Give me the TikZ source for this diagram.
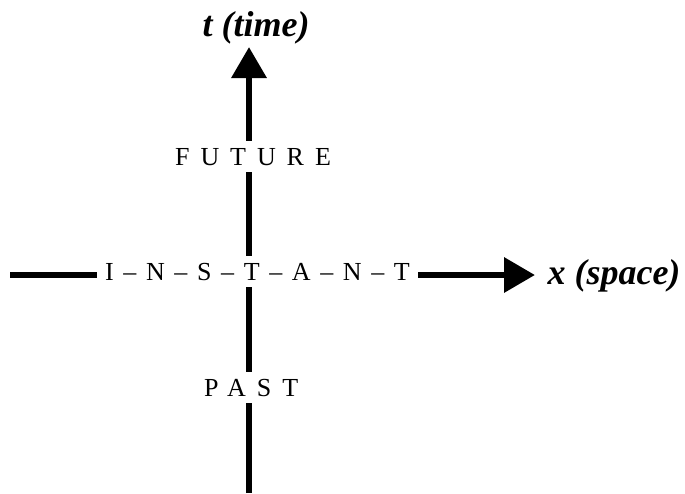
\documentclass[tikz,border=0pt]{standalone}
\usepackage{fontspec}
\setmainfont{Liberation Serif}
\usepackage{tikz}
\usetikzlibrary{arrows.meta}

\begin{document}
\begin{tikzpicture}[x=1pt,y=-1pt]
\tikzstyle{axis}=[line width=6.5pt,-{Triangle[length=31pt,width=34pt]}]
\tikzstyle{region}=[fill=white,inner xsep=8pt,inner ysep=7pt,anchor=base west,
  font=\fontsize{26}{30}\selectfont\addfontfeature{LetterSpace=42}]
\tikzstyle{axlabel}=[inner sep=0pt,anchor=base,font=\fontsize{36}{40}\selectfont\bfseries\itshape]
\useasboundingbox (0,0) rectangle (685,493);
\coordinate (tbot) at (249,493);
\coordinate (ttop) at (249,47);
\coordinate (xleft) at (10,275);
\coordinate (xright) at (535,275);
\draw[axis] (tbot) -- (ttop);
\draw[axis] (xleft) -- (xright);
\path (167,165) node[region] (future) {FUTURE};
\path (97,280) node[region,font=\fontsize{26}{30}\selectfont\addfontfeature{LetterSpace=12}] (instant) {I – N – S – T – A – N – T};
\path (196,396) node[region] (past) {PAST};
\path (256,36) node[axlabel] (time) {t (time)};
\path (614,284) node[axlabel] (space) {x (space)};
\end{tikzpicture}
\end{document}
